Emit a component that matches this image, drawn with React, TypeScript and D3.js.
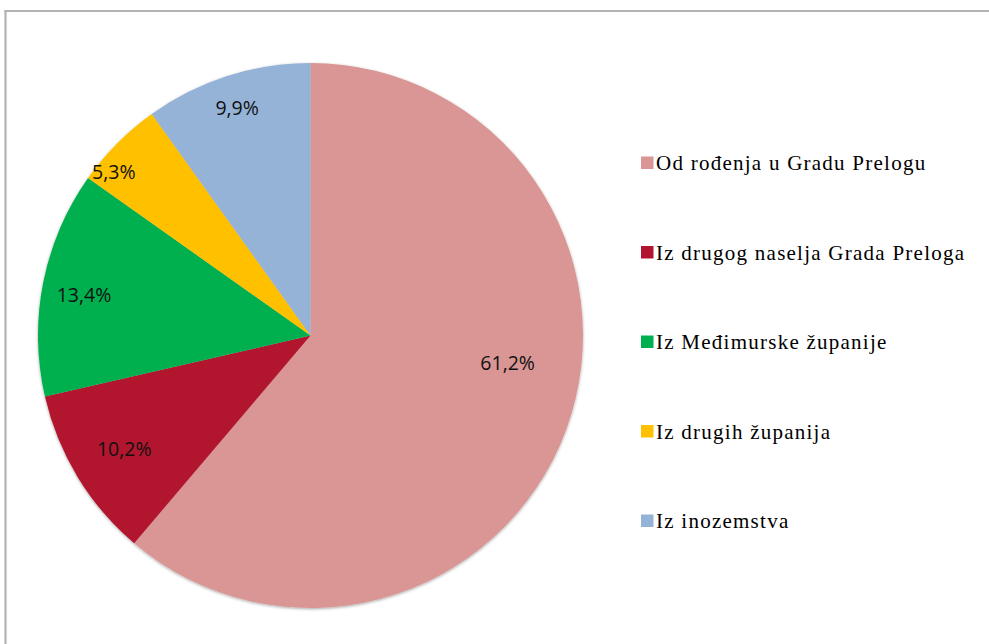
import React from "react";
import * as d3 from "d3";

const categories = [
  "Od rođenja u Gradu Prelogu",
  "Iz drugog naselja Grada Preloga",
  "Iz Međimurske županije",
  "Iz drugih županija",
  "Iz inozemstva",
];
const values = [61.2, 10.2, 13.4, 5.3, 9.9];
const valueLabels = ["61,2%", "10,2%", "13,4%", "5,3%", "9,9%"];
const colors = ["#D99694", "#B2142F", "#00B050", "#FFC000", "#95B3D7"];
// label placement (fraction of radius, angular offset in degrees) as Excel "best fit"
const labelRadius = [0.73, 0.8, 0.845, 0.94, 0.88];
const labelAngleOffset = [-12.5, 0, -0.8, -5, 0];

const W = 989;
const H = 644;
const cx = 310.5;
const cy = 335.5;
const R = 272.5;

export default function App() {
  const pie = d3.pie<number>().sort(null).value((d) => d);
  const arcs = pie(values);
  const arc = d3.arc<d3.PieArcDatum<number>>().innerRadius(0).outerRadius(R);

  const legendY = d3
    .scalePoint<string>()
    .domain(categories)
    .range([163, 521]);

  return (
    <svg
      width={W}
      height={H}
      style={{ position: "absolute", left: 0, top: 0, background: "#fff" }}
    >
      <defs>
        <filter id="sh" x="-10%" y="-10%" width="120%" height="120%">
          <feDropShadow dx="0" dy="1" stdDeviation="1.6" floodColor="#000" floodOpacity="0.35" />
        </filter>
      </defs>
      <rect x={0} y={0} width={W} height={H} fill="#fff" />
      <line x1={5.5} y1={10} x2={5.5} y2={H} stroke="#b3b3b3" strokeWidth={2.2} />
      <line x1={4.5} y1={11} x2={W} y2={11} stroke="#b3b3b3" strokeWidth={2.2} />
      <g transform={`translate(${cx},${cy})`} filter="url(#sh)">
        {arcs.map((a, i) => (
          <path key={i} d={arc(a) || ""} fill={colors[i]} />
        ))}
      </g>
      <g transform={`translate(${cx},${cy})`}>
        {arcs.map((a, i) => {
          const mid = (a.startAngle + a.endAngle) / 2 + (labelAngleOffset[i] * Math.PI) / 180;
          const r = R * labelRadius[i];
          const x = r * Math.sin(mid);
          const y = -r * Math.cos(mid);
          return (
            <text
              key={i}
              x={x}
              y={y}
              textAnchor="middle"
              dominantBaseline="central"
              fontFamily="'Open Sans', 'Liberation Sans', sans-serif"
              fontSize={19.5}
              fill="#111"
            >
              {valueLabels[i]}
            </text>
          );
        })}
      </g>
      <g>
        {categories.map((c, i) => {
          const y = legendY(c) as number;
          return (
            <g key={c}>
              <rect x={641} y={y - 6.5} width={12.5} height={12.5} fill={colors[i]} />
              <text
                x={656}
                y={y}
                dominantBaseline="central"
                fontFamily="'Liberation Serif', 'Times New Roman', serif"
                fontSize={21}
                letterSpacing={1.25}
                fill="#000"
              >
                {c}
              </text>
            </g>
          );
        })}
      </g>
    </svg>
  );
}
